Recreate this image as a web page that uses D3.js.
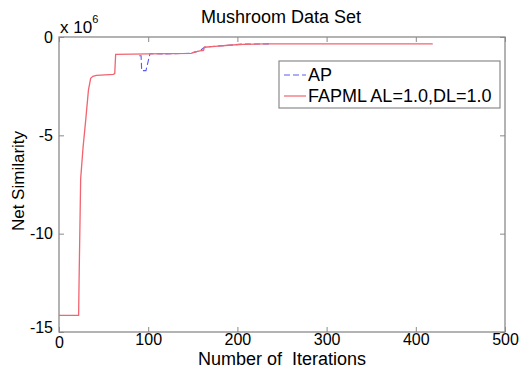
<!DOCTYPE html>
<html>
<head>
<meta charset="utf-8">
<script src="https://cdn.jsdelivr.net/npm/d3@7"></script>
<style>
  body { margin: 0; background: #fff; }
  svg { display: block; font-family: "Liberation Sans", Arial, sans-serif; }
</style>
</head>
<body>
<div id="chart"></div>
<script>
// iterations / net similarity (x 10^6)
const fapmlIter = [0, 22, 22.5, 24.3, 27, 30, 33, 35.5, 38, 42, 61, 62.5, 63.5, 100, 148, 152, 158, 162, 163, 175, 190, 206, 230, 419];
const fapmlSim = [-14.15, -14.15, -12.4, -7.2, -5.6, -4.2, -2.7, -2.1, -2.0, -1.95, -1.9, -1.86, -0.88, -0.86, -0.83, -0.77, -0.7, -0.68, -0.52, -0.48, -0.42, -0.37, -0.35, -0.35];
const apIter = [90, 92, 92.7, 97.5, 102, 120, 148, 152, 158, 163, 175, 190, 206, 238];
const apSim = [-0.95, -0.95, -1.71, -1.71, -0.85, -0.86, -0.83, -0.77, -0.7, -0.52, -0.47, -0.42, -0.36, -0.35];
const xTicks = [0, 100, 200, 300, 400, 500];
const yTicks = [0, -5, -10, -15];
const seriesNames = ["AP", "FAPML AL=1.0,DL=1.0"];

const W = 531, H = 377;
const margin = {top: 37, right: 26, bottom: 45, left: 59};
const width = W - margin.left - margin.right;
const height = H - margin.top - margin.bottom;
const axisColor = "#8a8a8a";
const redColor = "#f26470";
const blueColor = "#5a5af0";

const svg = d3.select("#chart").append("svg")
  .attr("width", W).attr("height", H);

const g = svg.append("g")
  .attr("transform", `translate(${margin.left},${margin.top})`);

const x = d3.scaleLinear().domain([0, 500]).range([0, width]);
const y = d3.scaleLinear().domain([-15, 0]).range([height, 0]);

// box
g.append("rect")
  .attr("width", width).attr("height", height)
  .attr("fill", "none").attr("stroke", axisColor).attr("stroke-width", 1.3);

// axes, ticks pointing inward
const xAxis = g.append("g")
  .attr("transform", `translate(0,${height})`)
  .call(d3.axisBottom(x).tickValues(xTicks).tickSizeInner(-5).tickSizeOuter(0).tickPadding(2));
const xTop = g.append("g")
  .call(d3.axisTop(x).tickValues(xTicks).tickSizeInner(-5).tickSizeOuter(0).tickFormat(""));
const yAxis = g.append("g")
  .call(d3.axisLeft(y).tickValues(yTicks).tickSizeInner(-5).tickSizeOuter(0).tickPadding(6)
    .tickFormat(d => d === 0 ? "0" : "-" + Math.abs(d)));
const yRight = g.append("g")
  .attr("transform", `translate(${width},0)`)
  .call(d3.axisRight(y).tickValues(yTicks).tickSizeInner(-5).tickSizeOuter(0).tickFormat(""));

[xAxis, xTop, yAxis, yRight].forEach(a => {
  a.select(".domain").remove();
  a.selectAll("line").attr("stroke", axisColor);
  a.selectAll("text").attr("fill", "#000").style("font-size", "16px");
});
// matlab nudges the corner labels
xAxis.selectAll(".tick").filter(d => d === 0).select("text").attr("dy", "0.85em");
yAxis.selectAll(".tick").filter(d => d === -15).select("text").attr("dy", "0.05em");

// clip
svg.append("clipPath").attr("id", "clip")
  .append("rect").attr("width", width).attr("height", height);

const line = d3.line().x(d => x(d[0])).y(d => y(d[1]));

const apData = d3.zip(apIter, apSim);
const fapmlData = d3.zip(fapmlIter, fapmlSim);

const plot = g.append("g").attr("clip-path", "url(#clip)");
plot.append("path").datum(apData)
  .attr("d", line).attr("fill", "none")
  .attr("stroke", blueColor).attr("stroke-width", 1.1)
  .attr("stroke-dasharray", "6,3");
plot.append("path").datum(fapmlData)
  .attr("d", line).attr("fill", "none")
  .attr("stroke", redColor).attr("stroke-width", 1.3);

// title and labels
svg.append("text")
  .attr("x", margin.left + width / 2 - 1).attr("y", 23)
  .attr("text-anchor", "middle").style("font-size", "18px")
  .text("Mushroom Data Set");

svg.append("text")
  .attr("x", margin.left + width / 2).attr("y", 365)
  .attr("text-anchor", "middle").style("font-size", "18px")
  .attr("xml:space", "preserve")
  .text("Number of  Iterations");

svg.append("text")
  .attr("transform", `translate(24,181) rotate(-90)`)
  .attr("text-anchor", "middle").style("font-size", "17px")
  .text("Net Similarity");

const expo = svg.append("text")
  .attr("x", margin.left + 1).attr("y", 33).style("font-size", "17px");
expo.append("tspan").text("x 10");
expo.append("tspan").attr("dy", -10).style("font-size", "11px").text("6");

// legend
const legend = svg.append("g").attr("transform", "translate(279,61)");
legend.append("rect")
  .attr("width", 221).attr("height", 47)
  .attr("fill", "#fff").attr("stroke", axisColor).attr("stroke-width", 1.2);

const legendRows = [
  {name: seriesNames[0], color: blueColor, dash: "6,3", y: 14},
  {name: seriesNames[1], color: redColor, dash: null, y: 35}
];
legendRows.forEach(r => {
  legend.append("line")
    .attr("x1", 5).attr("x2", 27).attr("y1", r.y).attr("y2", r.y)
    .attr("stroke", r.color).attr("stroke-width", 1.2)
    .attr("stroke-dasharray", r.dash);
  legend.append("text")
    .attr("x", 29).attr("y", r.y).attr("dy", "0.36em")
    .style("font-size", "18px")
    .text(r.name);
});
</script>
</body>
</html>
